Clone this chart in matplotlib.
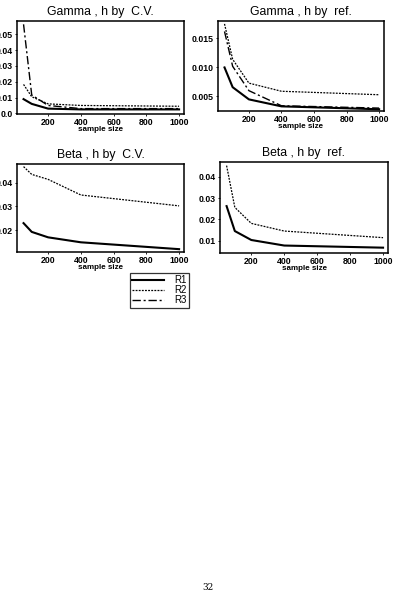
import numpy as np
import matplotlib
matplotlib.use("Agg")
from matplotlib import pyplot as plt

plt.rcParams['font.family'] = ['Liberation Sans', 'DejaVu Sans']

# sample sizes
n = [50, 100, 200, 400, 1000]

# Gamma, h by C.V.
gcv_r1 = [0.0090, 0.0060, 0.0030, 0.0025, 0.0025]
gcv_r2 = [0.0183, 0.0105, 0.0060, 0.0050, 0.0045]
gcv_r3 = [0.0563, 0.0116, 0.0050, 0.0030, 0.0030]

# Gamma, h by ref.
gref_r1 = [0.0100, 0.0066, 0.0045, 0.0033, 0.0028]
gref_r2 = [0.0175, 0.0114, 0.0073, 0.0059, 0.0053]
gref_r3 = [0.0162, 0.0102, 0.0060, 0.0034, 0.0030]

# Beta, h by C.V.
bcv_r1 = [0.0229, 0.0192, 0.0169, 0.0148, 0.0119]
bcv_r2 = [0.0468, 0.0435, 0.0414, 0.0348, 0.0302]

# Beta, h by ref.
bref_r1 = [0.0262, 0.0145, 0.0103, 0.0077, 0.0067]
bref_r2 = [0.0452, 0.0256, 0.0181, 0.0145, 0.0114]

W, H = 403, 599
fig = plt.figure(figsize=(W / 100, H / 100), dpi=100)


def box(l, r, t, b):
    return [l / W, 1 - b / H, (r - l) / W, (b - t) / H]


st = {
    'R1': dict(color='black', lw=1.5, ls='-'),
    'R2': dict(color='black', lw=0.9, ls=(0, (1.5, 1))),
    'R3': dict(color='black', lw=1.0, ls=(0, (6, 2, 1.5, 2))),
}


def panel(rect, title, series, ylim, yticks, ylabels):
    ax = fig.add_axes(box(*rect))
    for key, vals in series:
        ax.plot(n, vals, **st[key])
    ax.set_xlim(10, 1030)
    ax.set_ylim(*ylim)
    ax.set_xticks([200, 400, 600, 800, 1000])
    ax.set_yticks(yticks)
    ax.set_yticklabels(ylabels)
    for lab in ax.get_xticklabels() + ax.get_yticklabels():
        lab.set_fontsize(6.3)
        lab.set_fontweight('bold')
    ax.tick_params(length=1.5, width=0.6, pad=1.5)
    ax.set_xlabel('sample size', fontsize=5.8, fontweight='bold', labelpad=-0.5)
    ax.set_title(title, fontsize=8.8, pad=4)
    for s in ax.spines.values():
        s.set_linewidth(1.1)
    return ax


panel((17, 184, 21, 114), 'Gamma , h by  C.V.',
      [('R1', gcv_r1), ('R2', gcv_r2), ('R3', gcv_r3)],
      (-0.0004, 0.0584), [0, 0.01, 0.02, 0.03, 0.04, 0.05],
      ['0.0', '0.01', '0.02', '0.03', '0.04', '0.05'])

panel((218, 384, 21, 111), 'Gamma , h by  ref.',
      [('R1', gref_r1), ('R2', gref_r2), ('R3', gref_r3)],
      (0.0025, 0.018), [0.005, 0.010, 0.015],
      ['0.005', '0.010', '0.015'])

panel((17, 184, 164, 252), 'Beta , h by  C.V.',
      [('R1', bcv_r1), ('R2', bcv_r2)],
      (0.0107, 0.0479), [0.02, 0.03, 0.04],
      ['0.02', '0.03', '0.04'])

panel((220, 388, 162, 253), 'Beta , h by  ref.',
      [('R1', bref_r1), ('R2', bref_r2)],
      (0.0042, 0.0469), [0.01, 0.02, 0.03, 0.04],
      ['0.01', '0.02', '0.03', '0.04'])

# legend below the panels
handles = [plt.Line2D([], [], **st[k]) for k in ['R1', 'R2', 'R3']]
leg = fig.legend(handles, ['R1', 'R2', 'R3'], loc='upper left',
                 bbox_to_anchor=(130 / W, 1 - 273 / H), fontsize=7,
                 frameon=True, fancybox=False, edgecolor='black',
                 borderpad=0.25, labelspacing=0.0, handlelength=3.2,
                 handletextpad=1.1, borderaxespad=0)
leg.get_frame().set_linewidth(0.9)

fig.text(208 / W, 1 - 588 / H, '32', ha='center', va='center',
         fontsize=6.5, family='DejaVu Serif')

fig.savefig('out.png', dpi=100)
